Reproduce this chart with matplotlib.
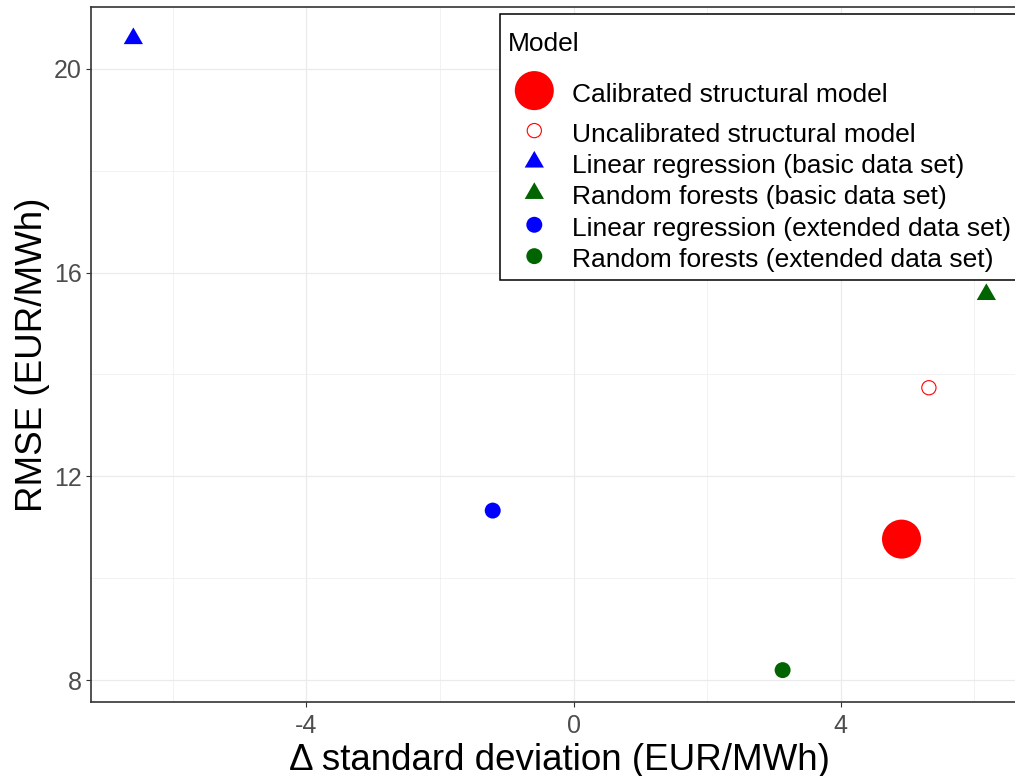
import matplotlib
matplotlib.use("Agg")
import matplotlib.pyplot as plt
import numpy as np
from matplotlib.path import Path
from matplotlib.legend_handler import HandlerPathCollection
from matplotlib.offsetbox import DrawingArea

plt.rcParams['font.family'] = ['Liberation Sans', 'DejaVu Sans']

# ---------------- data ----------------
models = [
    "Calibrated structural model",
    "Uncalibrated structural model",
    "Linear regression (basic data set)",
    "Random forests (basic data set)",
    "Linear regression (extended data set)",
    "Random forests (extended data set)",
]
delta_sd = [4.91, 5.32, -6.59, 6.18, -1.21, 3.13]
rmse = [10.77, 13.74, 20.59, 15.57, 11.33, 8.20]
x_ticks = [-4, 0, 4]
x_minor = [-6, -2, 2, 6]
y_ticks = [8, 12, 16, 20]
y_minor = [10, 14, 18]
x_title = "\u0394 standard deviation (EUR/MWh)"
y_title = "RMSE (EUR/MWh)"
legend_title = "Model"

# ---------------- styles ----------------
# R pch 17 style triangle (centroid at origin)
tri = Path([(0.0, 1.5551), (-1.3468, -0.7776), (1.3468, -0.7776), (0.0, 1.5551)],
           [Path.MOVETO, Path.LINETO, Path.LINETO, Path.CLOSEPOLY])
styles = [
    dict(marker='o', s=790, facecolors='#FF0000', edgecolors='none', linewidths=0),
    dict(marker='o', s=105, facecolors='none', edgecolors='#FF0000', linewidths=0.8),
    dict(marker=tri, s=256, facecolors='#0000FF', edgecolors='none', linewidths=0),
    dict(marker=tri, s=256, facecolors='#006400', edgecolors='none', linewidths=0),
    dict(marker='o', s=132, facecolors='#0000FF', edgecolors='none', linewidths=0),
    dict(marker='o', s=132, facecolors='#006400', edgecolors='none', linewidths=0),
]

W, H = 1015, 776
fig = plt.figure(figsize=(W / 100, H / 100), dpi=100)
left_px, right_px, top_px, bottom_px = 90.7, 1029.0, 7.0, 701.7
ax = fig.add_axes([left_px / W, 1 - bottom_px / H,
                   (right_px - left_px) / W, (bottom_px - top_px) / H])

handles = []
for xv, yv, lab, st in zip(delta_sd, rmse, models, styles):
    h = ax.scatter([xv], [yv], label=lab, zorder=3, **st)
    handles.append(h)

# ggplot-like 5% expansion
xr = max(delta_sd) - min(delta_sd)
yr = max(rmse) - min(rmse)
ax.set_xlim(min(delta_sd) - 0.05 * xr, max(delta_sd) + 0.05 * xr)
ax.set_ylim(min(rmse) - 0.05 * yr, max(rmse) + 0.05 * yr)

ax.set_xticks(x_ticks)
ax.set_xticklabels([str(t) for t in x_ticks])
ax.set_yticks(y_ticks)
ax.set_yticklabels([str(t) for t in y_ticks])
ax.set_xticks(x_minor, minor=True)
ax.set_yticks(y_minor, minor=True)

ax.grid(True, which='major', color='#EBEBEB', linewidth=0.9, zorder=0)
ax.grid(True, which='minor', color='#EBEBEB', linewidth=0.45, zorder=0)
ax.set_axisbelow(True)

ax.tick_params(which='major', direction='out', length=3.7, width=0.8,
               color='#333333', labelcolor='#4D4D4D', labelsize=18)
ax.tick_params(axis='x', which='major', pad=5.5)
ax.tick_params(axis='y', which='major', pad=3.0)
ax.tick_params(which='minor', length=0)

for sp in ax.spines.values():
    sp.set_color('#333333')
    sp.set_linewidth(1.2)

ax.set_xlabel(x_title, fontsize=26.5, color='black')
ax.xaxis.label.set_va('baseline')
ax.xaxis.set_label_coords(0.5, -(770 - bottom_px) / (bottom_px - top_px))
ax.set_ylabel(y_title, fontsize=26.5, color='black')
ax.yaxis.label.set_va('baseline')
ax.yaxis.label.set_rotation_mode('anchor')
ax.yaxis.set_label_coords((42 - left_px) / (right_px - left_px), 0.5)

# ---------------- legend ----------------
class ExtraSpaceHandler(HandlerPathCollection):
    def __init__(self, extra_top, extra_bottom, **kw):
        super().__init__(**kw)
        self.extra_top = extra_top
        self.extra_bottom = extra_bottom

    def legend_artist(self, legend, orig_handle, fontsize, handlebox):
        art = super().legend_artist(legend, orig_handle, fontsize, handlebox)
        handlebox.ydescent += self.extra_bottom
        handlebox.height += self.extra_bottom + self.extra_top
        return art

fs = 19.0
leg = ax.legend(handles=handles, labels=models, title=legend_title,
                loc='upper left', bbox_to_anchor=(500 / W, 1 - 14.3 / H),
                bbox_transform=fig.transFigure, fontsize=fs, title_fontsize=fs,
                alignment='left', frameon=True, fancybox=False, framealpha=1,
                edgecolor='black', borderpad=0.3, handlelength=2.0,
                handletextpad=0.44, labelspacing=0.28, borderaxespad=0,
                scatterpoints=1, scatteryoffsets=[0.6], markerscale=1,
                handler_map={handles[0]: ExtraSpaceHandler(14.5, 9.8)})
leg.get_frame().set_linewidth(1.1)
leg.set_zorder(10)
spacer = DrawingArea(1, 1.5)
leg._legend_box._children.insert(0, spacer)

fig.savefig("out.png", dpi=100)
